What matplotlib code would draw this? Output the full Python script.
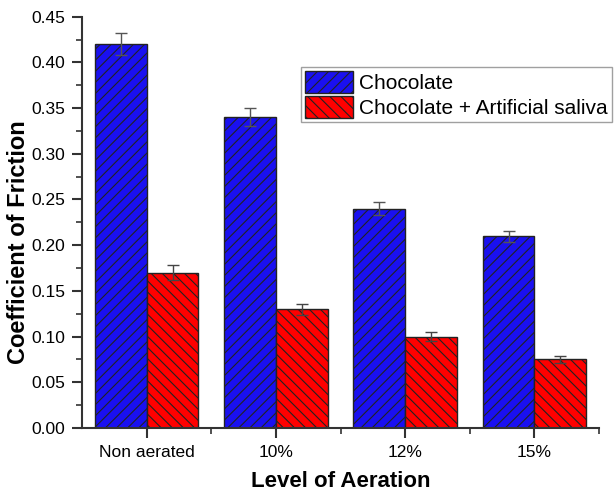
import matplotlib.pyplot as plt
import numpy as np
from matplotlib.ticker import MultipleLocator

# Data
levels = ["Non aerated", "10%", "12%", "15%"]
choc = [0.42, 0.34, 0.24, 0.21]
choc_err = [0.012, 0.010, 0.007, 0.006]
saliva = [0.17, 0.13, 0.10, 0.075]
saliva_err = [0.008, 0.006, 0.005, 0.004]

plt.rcParams["font.family"] = ["Liberation Sans", "DejaVu Sans"]
plt.rcParams["hatch.linewidth"] = 0.8

fig = plt.figure(figsize=(6.14, 4.94), dpi=100)
ax = fig.add_axes([0.1336, 0.1336, 0.842, 0.8326])

x = np.arange(len(levels))
w = 0.4
ax.bar(x - w / 2, choc, w, yerr=choc_err, color="#1a10f0", edgecolor="#222222",
       linewidth=1.0, hatch="///", label="Chocolate",
       error_kw=dict(ecolor="#555555", capsize=4, elinewidth=1, capthick=1))
ax.bar(x + w / 2, saliva, w, yerr=saliva_err, color="#ff0000", edgecolor="#222222",
       linewidth=1.0, hatch="\\\\\\", label="Chocolate + Artificial saliva",
       error_kw=dict(ecolor="#444444", capsize=4, elinewidth=1, capthick=1))

ax.set_xlim(-0.5, 3.5)
ax.set_ylim(0, 0.45)
ax.set_xticks(x)
ax.set_xticklabels(levels)
ax.set_xticks(x + 0.5, minor=True)
ax.yaxis.set_major_locator(MultipleLocator(0.05))
ax.yaxis.set_minor_locator(MultipleLocator(0.025))
ax.yaxis.set_major_formatter(plt.FormatStrFormatter("%.2f"))

for s in ["top", "right"]:
    ax.spines[s].set_visible(False)
for s in ["left", "bottom"]:
    ax.spines[s].set_linewidth(1.5)
    ax.spines[s].set_color("#333333")
ax.tick_params(which="major", direction="out", length=7, width=1.5,
               color="#333333", labelsize=12.5, pad=5)
ax.tick_params(which="minor", direction="out", length=4, width=1.2,
               color="#333333")

ax.set_xlabel("Level of Aeration", fontsize=16, fontweight="bold", labelpad=8)
ax.set_ylabel("Coefficient of Friction", fontsize=17, fontweight="bold")
ax.yaxis.set_label_coords(-0.1, 0.453)

leg = ax.legend(loc="upper left", bbox_to_anchor=(0.4897, 0.8638),
                bbox_transform=fig.transFigure, fontsize=15, frameon=True,
                fancybox=False, edgecolor="#888888", borderpad=0.2,
                handlelength=2.3, handleheight=1.2, handletextpad=0.3,
                labelspacing=0.15, borderaxespad=0)
leg.get_frame().set_linewidth(1.0)

fig.savefig("out.png", dpi=100)
